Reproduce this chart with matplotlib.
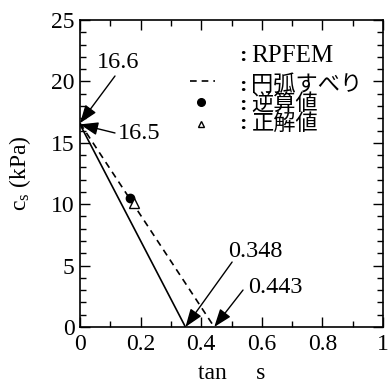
import matplotlib.pyplot as plt

plt.rcParams['font.family'] = ['Liberation Serif', 'Noto Sans CJK JP']
plt.rcParams['mathtext.fontset'] = 'stix'

# データ
tan_rpfem = [0.0, 0.348]
cs_rpfem = [16.5, 0.0]
tan_arc = [0.0, 0.443]
cs_arc = [16.6, 0.0]
tan_back = [0.165]
cs_back = [10.5]
tan_true = [0.178]
cs_true = [10.1]

legend_labels = ['RPFEM', '円弧すべり', '逆算値', '正解値']

fig = plt.figure(figsize=(3.89, 3.89), dpi=100)
ax = fig.add_axes([80 / 389, 62 / 389, 303 / 389, 307 / 389])

ax.plot(tan_rpfem, cs_rpfem, color='black', lw=1.2)
ax.plot(tan_arc, cs_arc, color='black', lw=1.2, ls=(0, (4, 3)))
ax.plot(tan_back, cs_back, 'o', color='black', ms=6)
ax.plot(tan_true, cs_true, '^', mfc='white', mec='black', ms=7.5, mew=1)

ax.set_xlim(0, 1)
ax.set_ylim(0, 25)
ax.set_xticks([0, 0.2, 0.4, 0.6, 0.8, 1])
ax.set_xticklabels(['0', '0.2', '0.4', '0.6', '0.8', '1'])
ax.set_xticks([0.1, 0.3, 0.5, 0.7, 0.9], minor=True)
ax.set_yticks([0, 5, 10, 15, 20, 25])
ax.set_yticks([v for v in range(26) if v % 5], minor=True)
ax.tick_params(which='both', direction='in', top=True, right=True, labelsize=17, width=1)
ax.tick_params(which='major', length=7)
ax.tick_params(which='minor', length=4.3)
ax.tick_params(axis='x', pad=5)
ax.tick_params(axis='y', pad=4)
for s in ax.spines.values():
    s.set_linewidth(1.2)

ax.set_ylabel('$\\mathregular{c_s}$ (kPa)', fontsize=17)
ax.yaxis.set_label_coords(-0.155, 0.5)
ax.set_xlabel('tan     s', fontsize=17, labelpad=6)

# 注記
arr = dict(arrowstyle='-|>,head_length=0.55,head_width=0.2', color='black', lw=1,
           mutation_scale=20, shrinkA=0, shrinkB=0)
ax.text(0.056, 21.5, '16.6', fontsize=17.5, va='center')
ax.annotate('', xy=(0, cs_arc[0]), xytext=(0.1155, 20.44), arrowprops=arr)
ax.text(0.125, 15.72, '16.5', fontsize=17.5, va='center')
ax.annotate('', xy=(0, cs_rpfem[0]), xytext=(0.1155, 15.8), arrowprops=arr)
ax.text(0.488, 6.11, '0.348', fontsize=17.5, va='center')
ax.annotate('', xy=(tan_rpfem[1], 0), xytext=(0.502, 5.29), arrowprops=arr)
ax.text(0.554, 3.18, '0.443', fontsize=17.5, va='center')
ax.annotate('', xy=(tan_arc[1], 0), xytext=(0.538, 3.01), arrowprops=arr)

# 凡例（手描き）
tr = ax.transAxes
rows_y = [0.891, 0.793, 0.731, 0.669]
sizes = [18, 16, 16, 16]
for lab, yy, fs in zip(legend_labels, rows_y, sizes):
    ax.text(0.525, yy, ':', transform=tr, fontsize=16, fontweight='bold',
            va='center_baseline', ha='left')
    ax.text(0.566, yy, lab, transform=tr, fontsize=fs, va='center_baseline', ha='left')
ax.plot([0.363, 0.446], [0.802, 0.802], transform=tr, color='black', lw=1.2,
        ls=(0, (4, 3)))
ax.plot([0.398], [0.732], 'o', transform=tr, color='black', ms=5.5)
ax.plot([0.398], [0.66], '^', transform=tr, mfc='white', mec='black', ms=4.5, mew=1)

fig.savefig('out.png', dpi=100)
